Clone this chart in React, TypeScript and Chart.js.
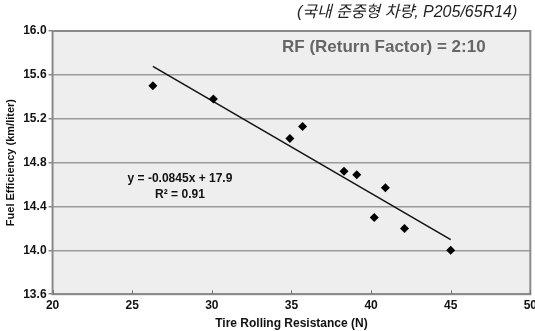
import React, { useEffect, useRef } from "react";
import { Chart, registerables } from "chart.js";

Chart.register(...registerables);

const resistance = [26.3, 30.1, 34.9, 35.7, 38.3, 39.1, 40.9, 40.2, 42.1, 45.0];
const efficiency = [15.5, 15.38, 15.02, 15.13, 14.72, 14.69, 14.57, 14.3, 14.2, 14.0];
const trendSlope = -0.0845;
const trendIntercept = 17.9;
const trendRange = [26.3, 45.0];
const xTickValues = [20, 25, 30, 35, 40, 45, 50];
const yTickValues = [13.6, 14.0, 14.4, 14.8, 15.2, 15.6, 16.0];
const headerText = "(국내 준중형 차량, P205/65R14)";
const rfText = "RF (Return Factor) = 2:10";
const equationText = "y = -0.0845x + 17.9";
const r2Text = "R² = 0.91";
const xTitle = "Tire Rolling Resistance (N)";
const yTitle = "Fuel Efficiency (km/liter)";

const FONT = "'Liberation Sans', Arial, sans-serif";

const decorPlugin = {
  id: "decor",
  beforeDraw(chart: any) {
    const { ctx, chartArea } = chart;
    ctx.save();
    ctx.fillStyle = "#ffffff";
    ctx.fillRect(0, 0, chart.width, chart.height);
    ctx.fillStyle = "#eeeeee";
    ctx.fillRect(chartArea.left, chartArea.top, chartArea.right - chartArea.left, chartArea.bottom - chartArea.top);
    ctx.restore();
  },
  afterDraw(chart: any) {
    const { ctx, chartArea, scales } = chart;
    const xs = scales.x;
    const ys = scales.y;
    ctx.save();
    ctx.strokeStyle = "#8a8a8a";
    ctx.lineWidth = 2;
    ctx.strokeRect(chartArea.left, chartArea.top, chartArea.right - chartArea.left, chartArea.bottom - chartArea.top);
    ctx.strokeStyle = "#777";
    ctx.lineWidth = 1;
    xTickValues.forEach((v) => {
      const px = Math.round(xs.getPixelForValue(v)) + 0.5;
      ctx.beginPath();
      ctx.moveTo(px, chartArea.bottom);
      ctx.lineTo(px, chartArea.bottom - 4);
      ctx.stroke();
    });
    ctx.fillStyle = "#222";
    ctx.font = `italic 16px 'Liberation Sans', 'Noto Sans CJK KR', sans-serif`;
    ctx.textAlign = "right";
    ctx.textBaseline = "middle";
    ctx.fillText(headerText, chartArea.right - 13, 13);
    ctx.fillStyle = "#666";
    ctx.font = `bold 17px ${FONT}`;
    ctx.textAlign = "center";
    ctx.fillText(rfText, xs.getPixelForValue(40.8), ys.getPixelForValue(15.85));
    ctx.fillStyle = "#111";
    ctx.font = `bold 12px ${FONT}`;
    ctx.fillText(equationText, xs.getPixelForValue(28.0), ys.getPixelForValue(14.65));
    ctx.fillText(r2Text, xs.getPixelForValue(28.0), ys.getPixelForValue(14.51));
    ctx.restore();
  },
};

export default function App() {
  const canvasRef = useRef<HTMLCanvasElement | null>(null);

  useEffect(() => {
    document.body.style.margin = "0";
    const canvas = canvasRef.current;
    if (!canvas) return;
    const points = resistance.map((x, i) => ({ x, y: efficiency[i] }));
    const trend = trendRange.map((x) => ({ x, y: trendSlope * x + trendIntercept }));
    const chart = new Chart(canvas, {
      type: "scatter",
      data: {
        datasets: [
          {
            data: points,
            pointStyle: "rectRot",
            pointRadius: 4.5,
            backgroundColor: "#000",
            borderColor: "#000",
            borderWidth: 0,
          },
          {
            type: "line",
            data: trend,
            borderColor: "#111",
            borderWidth: 1.5,
            pointRadius: 0,
            fill: false,
          } as any,
        ],
      },
      options: {
        animation: false,
        responsive: false,
        maintainAspectRatio: false,
        layout: { padding: { top: 31, right: 0, bottom: 0, left: 4 } },
        plugins: {
          legend: { display: false },
          tooltip: { enabled: false },
        },
        scales: {
          x: {
            type: "linear",
            min: 20,
            max: 50,
            afterBuildTicks: (axis: any) => {
              axis.ticks = xTickValues.map((v) => ({ value: v }));
            },
            grid: { display: false, drawTicks: false },
            border: { display: false },
            ticks: {
              color: "#111",
              font: { family: FONT, size: 12, weight: "bold" },
              padding: 4,
              callback: (v: any) => String(v),
            },
            title: {
              display: true,
              text: xTitle,
              color: "#111",
              font: { family: FONT, size: 12, weight: "bold" },
              padding: { top: 0, bottom: 0 },
            },
          },
          y: {
            type: "linear",
            min: 13.6,
            max: 16.0,
            afterBuildTicks: (axis: any) => {
              axis.ticks = yTickValues.map((v) => ({ value: v }));
            },
            grid: {
              color: "#9a9a9a",
              lineWidth: 1.5,
              drawTicks: true,
              tickLength: 4,
              tickColor: "#888",
            },
            border: { display: false },
            ticks: {
              color: "#111",
              font: { family: FONT, size: 12, weight: "bold" },
              padding: 2,
              callback: (v: any) => Number(v).toFixed(1),
            },
            title: {
              display: true,
              text: yTitle,
              color: "#111",
              font: { family: FONT, size: 11, weight: "bold" },
              padding: { top: 0, bottom: 4 },
            },
          },
        },
      },
      plugins: [decorPlugin],
    });
    return () => chart.destroy();
  }, []);

  return (
    <div style={{ position: "absolute", left: 0, top: 0, width: 535, height: 331, overflow: "hidden" }}>
      <canvas ref={canvasRef} width={541} height={331} style={{ display: "block" }} />
    </div>
  );
}
